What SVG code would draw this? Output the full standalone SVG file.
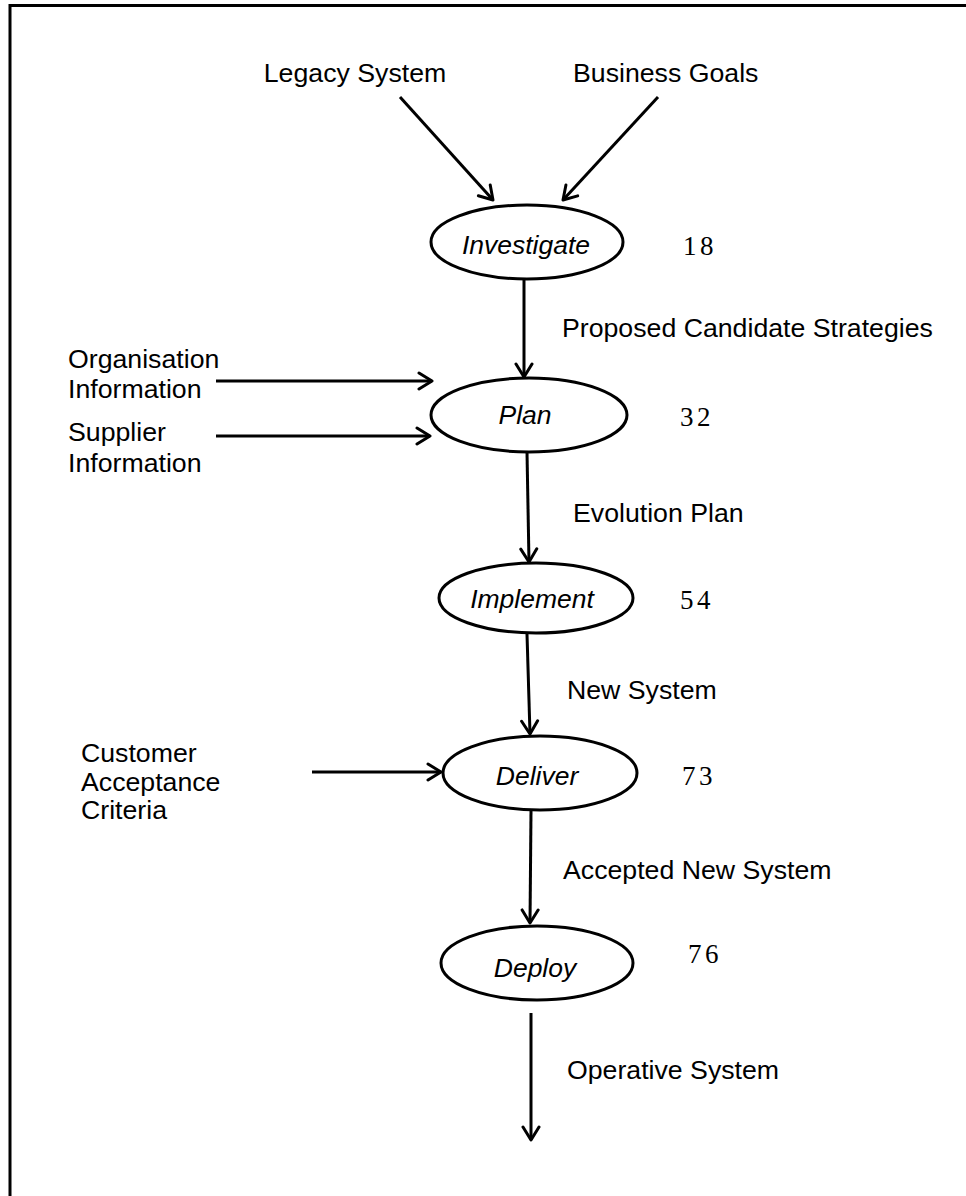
<svg xmlns="http://www.w3.org/2000/svg" width="966" height="1196" viewBox="0 0 966 1196">
  <style>
    .lbl { font-family: "Liberation Sans", Arial, sans-serif; font-size: 26.7px; fill: #000; }
    .node-label { font-family: "Liberation Sans", Arial, sans-serif; font-size: 26.5px; font-style: italic; fill: #000; text-anchor: middle; }
    .num { font-family: "Liberation Serif", "Times New Roman", serif; font-size: 27px; letter-spacing: 3.5px; fill: #000; }
    .shape { fill: #fff; stroke: #000; stroke-width: 3; }
    .flow { fill: none; stroke: #000; stroke-width: 3; marker-end: url(#head); }
  </style>
  <defs>
    <marker id="head" markerUnits="userSpaceOnUse" viewBox="-16 -10 18 20" refX="0" refY="0" markerWidth="18" markerHeight="20" orient="auto">
      <path d="M-13,-8 L0,0 L-13,8" fill="none" stroke="#000" stroke-width="3" stroke-linejoin="round" stroke-linecap="round"/>
    </marker>
  </defs>

  <rect width="966" height="1196" fill="#fff"/>
  <!-- frame -->
  <path d="M10,1196 V5.5 H966" fill="none" stroke="#000" stroke-width="3"/>

  <!-- external inputs / outputs -->
  <text class="lbl" x="355" y="82" text-anchor="middle">Legacy System</text>
  <text class="lbl" x="573" y="82">Business Goals</text>
  <text class="lbl" x="562" y="337">Proposed Candidate Strategies</text>
  <text class="lbl" x="68" y="368">Organisation</text>
  <text class="lbl" x="68" y="398">Information</text>
  <text class="lbl" x="68" y="441">Supplier</text>
  <text class="lbl" x="68" y="472">Information</text>
  <text class="lbl" x="573" y="522">Evolution Plan</text>
  <text class="lbl" x="567" y="699">New System</text>
  <text class="lbl" x="81" y="762">Customer</text>
  <text class="lbl" x="81" y="791">Acceptance</text>
  <text class="lbl" x="81" y="819">Criteria</text>
  <text class="lbl" x="563" y="879">Accepted New System</text>
  <text class="lbl" x="567" y="1079">Operative System</text>

  <!-- connectors -->
  <g id="connectors">
    <line class="flow" x1="400" y1="97" x2="493" y2="200"/>
    <line class="flow" x1="658" y1="97" x2="563" y2="200"/>
    <line class="flow" x1="524" y1="279" x2="524" y2="377"/>
    <line class="flow" x1="216" y1="381" x2="432" y2="381"/>
    <line class="flow" x1="216" y1="436" x2="430" y2="436"/>
    <line class="flow" x1="527" y1="452" x2="529" y2="562"/>
    <line class="flow" x1="527" y1="634" x2="530" y2="734"/>
    <line class="flow" x1="312" y1="772" x2="441" y2="772"/>
    <line class="flow" x1="531" y1="811" x2="530" y2="923"/>
    <line class="flow" x1="531" y1="1013" x2="531" y2="1140"/>
  </g>

  <!-- processes -->
  <g id="investigate">
    <ellipse class="shape" cx="527" cy="242" rx="96" ry="37"/>
    <text class="node-label" x="526" y="254">Investigate</text>
    <text class="num" x="683" y="255">18</text>
  </g>
  <g id="plan">
    <ellipse class="shape" cx="529" cy="415" rx="98" ry="37"/>
    <text class="node-label" x="525" y="424">Plan</text>
    <text class="num" x="680" y="426">32</text>
  </g>
  <g id="implement">
    <ellipse class="shape" cx="536" cy="598" rx="97" ry="35"/>
    <text class="node-label" x="532" y="608">Implement</text>
    <text class="num" x="680" y="609">54</text>
  </g>
  <g id="deliver">
    <ellipse class="shape" cx="540" cy="773" rx="97" ry="37"/>
    <text class="node-label" x="537" y="785">Deliver</text>
    <text class="num" x="682" y="785">73</text>
  </g>
  <g id="deploy">
    <ellipse class="shape" cx="537" cy="963" rx="96" ry="37"/>
    <text class="node-label" x="535" y="977">Deploy</text>
    <text class="num" x="688" y="963">76</text>
  </g>
</svg>
